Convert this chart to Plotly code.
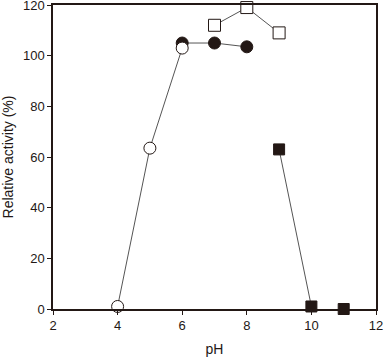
import plotly.graph_objects as go

ph_open_circle = [4, 5, 6]
act_open_circle = [1, 63.5, 103]
ph_filled_circle = [6, 7, 8]
act_filled_circle = [105, 105, 103.5]
ph_open_square = [7, 8, 9]
act_open_square = [112, 119, 109]
ph_filled_square = [9, 10]
act_filled_square = [63, 1]
ph_filled_square_extra = [11]
act_filled_square_extra = [0]

x_ticks = [2, 4, 6, 8, 10, 12]
y_ticks = [0, 20, 40, 60, 80, 100, 120]

dark = "#231815"
line_col = "#555555"

fig = go.Figure()
fig.add_trace(go.Scatter(x=ph_filled_circle, y=act_filled_circle, mode="lines+markers",
                         line=dict(color=line_col, width=1),
                         marker=dict(symbol="circle", size=12, color=dark, line=dict(color=dark, width=1))))
fig.add_trace(go.Scatter(x=ph_open_circle, y=act_open_circle, mode="lines+markers",
                         line=dict(color=line_col, width=1),
                         marker=dict(symbol="circle", size=12, color="white", line=dict(color=dark, width=1))))
fig.add_trace(go.Scatter(x=ph_open_square, y=act_open_square, mode="lines+markers",
                         line=dict(color=line_col, width=1),
                         marker=dict(symbol="square", size=12, color="white", line=dict(color=dark, width=1))))
fig.add_trace(go.Scatter(x=ph_filled_square, y=act_filled_square, mode="lines+markers",
                         line=dict(color=line_col, width=1),
                         marker=dict(symbol="square", size=11, color=dark, line=dict(color=dark, width=1))))
fig.add_trace(go.Scatter(x=ph_filled_square_extra, y=act_filled_square_extra, mode="markers",
                         marker=dict(symbol="square", size=11, color=dark, line=dict(color=dark, width=1))))

axis_common = dict(showgrid=False, zeroline=False, showline=True, linecolor=dark, linewidth=1.5,
                   ticks="outside", ticklen=4, tickcolor=dark, mirror=True, automargin=False,
                   ticklabeloverflow="allow",
                   tickfont=dict(family="Liberation Sans, Arial", size=13, color=dark))
fig.update_layout(
    width=387, height=359,
    margin=dict(l=53, r=11, t=5, b=50),
    plot_bgcolor="white", paper_bgcolor="white",
    showlegend=False,
    font=dict(family="Liberation Sans, Arial", size=13, color=dark),
    xaxis=dict(range=[2, 12], tickvals=x_ticks, title=dict(text="pH", standoff=12,
               font=dict(size=14)), **axis_common),
    yaxis=dict(range=[0, 120.01], tickvals=y_ticks, title=dict(text="Relative activity (%)", standoff=6,
               font=dict(size=14)), **axis_common),
)
fig.update_traces(cliponaxis=False)
fig.write_html("out.html", config={"displayModeBar": False},
               post_script="document.body.style.margin='0';document.body.style.overflow='hidden';")
